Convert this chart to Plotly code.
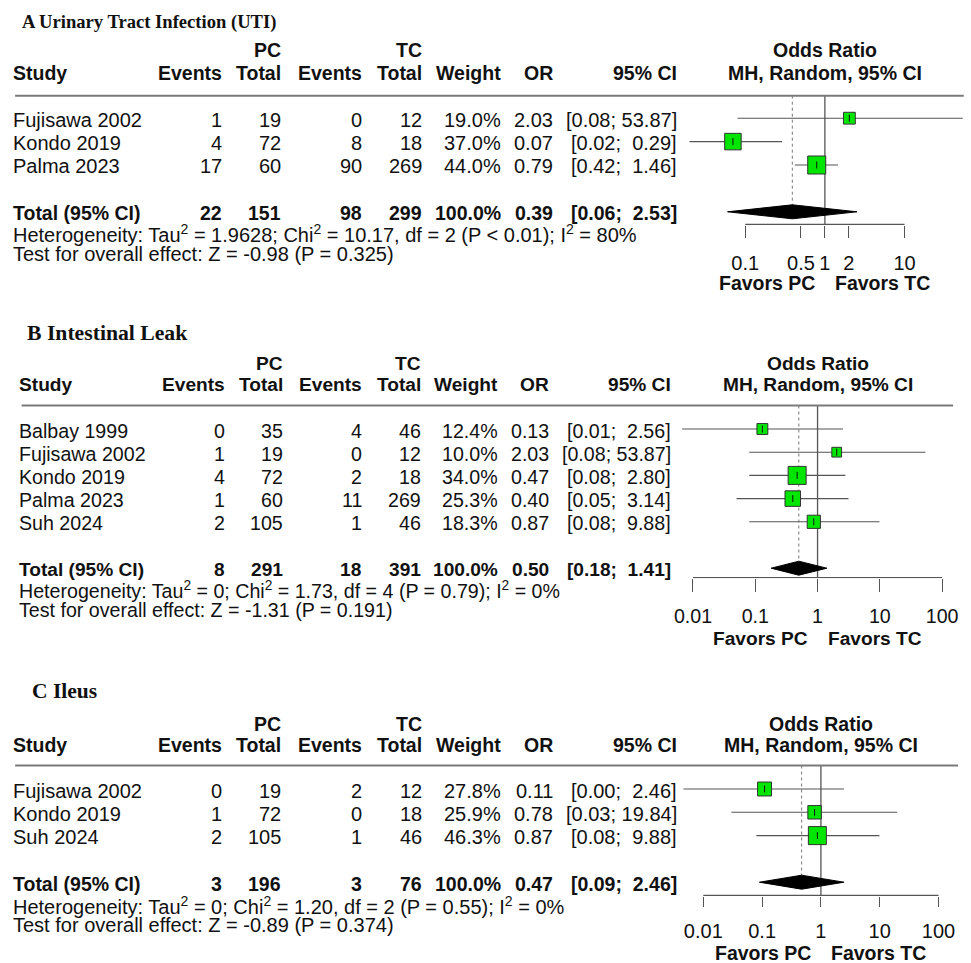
import numpy as np
import plotly.graph_objects as go

W, H = 971, 963
SANS = "Liberation Sans, Arial, Helvetica, sans-serif"
SERIF = "Liberation Serif, Times New Roman, serif"
INK = "#111111"

# ---------------- A: Urinary tract infection ----------------
a_studies = ["Fujisawa 2002", "Kondo 2019", "Palma 2023"]
a_pc_events = [1, 4, 17]
a_pc_total = [19, 72, 60]
a_tc_events = [0, 8, 90]
a_tc_total = [12, 18, 269]
a_weight = [19.0, 37.0, 44.0]
a_or = [2.03, 0.07, 0.79]
a_lo = [0.08, 0.02, 0.42]
a_hi = [53.87, 0.29, 1.46]
a_pooled = [0.39, 0.06, 2.53]
a_het = "Heterogeneity: Tau<sup>2</sup> = 1.9628; Chi<sup>2</sup> = 10.17, df = 2 (P &lt; 0.01); I<sup>2</sup> = 80%"
a_test = "Test for overall effect: Z = -0.98 (P = 0.325)"
a_ticks = [0.1, 0.5, 1, 2, 10]
a_ticklabels = ["0.1", "0.5", "1", "2", "10"]

# ---------------- B: Intestinal leak ----------------
b_studies = ["Balbay 1999", "Fujisawa 2002", "Kondo 2019", "Palma 2023", "Suh 2024"]
b_pc_events = [0, 1, 4, 1, 2]
b_pc_total = [35, 19, 72, 60, 105]
b_tc_events = [4, 0, 2, 11, 1]
b_tc_total = [46, 12, 18, 269, 46]
b_weight = [12.4, 10.0, 34.0, 25.3, 18.3]
b_or = [0.13, 2.03, 0.47, 0.40, 0.87]
b_lo = [0.0067, 0.08, 0.08, 0.05, 0.08]
b_hi = [2.56, 53.87, 2.80, 3.14, 9.88]
b_pooled = [0.50, 0.18, 1.41]
b_het = "Heterogeneity: Tau<sup>2</sup> = 0; Chi<sup>2</sup> = 1.73, df = 4 (P = 0.79); I<sup>2</sup> = 0%"
b_test = "Test for overall effect: Z = -1.31 (P = 0.191)"
b_ticks = [0.01, 0.1, 1, 10, 100]
b_ticklabels = ["0.01", "0.1", "1", "10", "100"]

# ---------------- C: Ileus ----------------
c_studies = ["Fujisawa 2002", "Kondo 2019", "Suh 2024"]
c_pc_events = [0, 1, 2]
c_pc_total = [19, 72, 105]
c_tc_events = [2, 0, 1]
c_tc_total = [12, 18, 46]
c_weight = [27.8, 25.9, 46.3]
c_or = [0.11, 0.78, 0.87]
c_lo = [0.0046, 0.03, 0.08]
c_hi = [2.46, 19.84, 9.88]
c_pooled = [0.47, 0.09, 2.46]
c_het = "Heterogeneity: Tau<sup>2</sup> = 0; Chi<sup>2</sup> = 1.20, df = 2 (P = 0.55); I<sup>2</sup> = 0%"
c_test = "Test for overall effect: Z = -0.89 (P = 0.374)"
c_ticks = [0.01, 0.1, 1, 10, 100]
c_ticklabels = ["0.01", "0.1", "1", "10", "100"]

panels = [
    dict(title="A Urinary Tract Infection (UTI)", studies=a_studies,
         pce=a_pc_events, pct=a_pc_total, tce=a_tc_events, tct=a_tc_total,
         w=a_weight, est=a_or, lo=a_lo, hi=a_hi, pooled=a_pooled,
         het=a_het, test=a_test, ticks=a_ticks, ticklabels=a_ticklabels,
         g=dict(title_x=20.7, title_y=22, title_size=18.6, shift=0.0, sc=1.0,
                h1=50, h2=73.5, line_y=95.7, line_x1=966.7, row0=118.2, step=23.4,
                het_y=233.5, test_y=254, axis_y=225, ticklen=12, standoff=8,
                fav_y=283, one=826.7, k=80.3, fx0=683, fx1=967)),
    dict(title="B Intestinal Leak", studies=b_studies,
         pce=b_pc_events, pct=b_pc_total, tce=b_tc_events, tct=b_tc_total,
         w=b_weight, est=b_or, lo=b_lo, hi=b_hi, pooled=b_pooled,
         het=b_het, test=b_test, ticks=b_ticks, ticklabels=b_ticklabels,
         g=dict(title_x=26, title_y=333, title_size=21.7, shift=6.6, sc=0.9817,
                h1=363.5, h2=384.5, line_y=405.5, line_x1=956, row0=429, step=23.2,
                het_y=590, test_y=610, axis_y=578.3, ticklen=13, standoff=7,
                fav_y=638.3, one=819.3, k=62.8, fx0=680, fx1=958)),
    dict(title="C Ileus", studies=c_studies,
         pce=c_pc_events, pct=c_pc_total, tce=c_tc_events, tct=c_tc_total,
         w=c_weight, est=c_or, lo=c_lo, hi=c_hi, pooled=c_pooled,
         het=c_het, test=c_test, ticks=c_ticks, ticklabels=c_ticklabels,
         g=dict(title_x=31.5, title_y=691, title_size=21.5, shift=0.0, sc=1.0,
                h1=724, h2=745, line_y=765.5, line_x1=961, row0=789, step=23.3,
                het_y=905, test_y=924.5, axis_y=896, ticklen=10, standoff=7,
                fav_y=953.3, one=822.7, k=59.3, fx0=680, fx1=963)),
]

# right edges of the table columns (px) and the left edge of the study column
COL_STUDY = 11.7
COL_RIGHT = dict(pce=220, pct=279.3, tce=360.7, tct=421.7, w=500.7, est=553.3, ci=678.3)
LEFT_NUDGE = -5.0   # annotation boxes sit slightly inside their anchor

fig = go.Figure()
annotations = []
shapes = []


def add_text(x_px, y_px, s, anchor="right", size=20.0, family=SANS, bold=False):
    if anchor == "left":
        x_px += LEFT_NUDGE
    annotations.append(dict(
        xref="paper", yref="paper", x=x_px / W, y=1 - y_px / H,
        text=f"<b>{s}</b>" if bold else s, showarrow=False,
        xanchor=anchor, yanchor="middle", borderpad=0,
        font=dict(family=family, size=size, color=INK)))


def ci_labels(lo, hi):
    low = [f"{v:.2f}" for v in lo]
    up = [f"{v:.2f}" for v in hi]
    wl = max(len(s) for s in low)
    wu = max(len(s) for s in up)
    pad = lambda s, n: "\u00a0" * (n - len(s)) + s
    return [f"[{pad(a, wl)};\u00a0{pad(b, wu)}]" for a, b in zip(low, up)]


for p_i, p in enumerate(panels, start=1):
    g = p["g"]
    n = len(p["studies"])
    fs = 20.0 * g["sc"]
    fb = 19.5 * g["sc"]
    tx = lambda x: COL_STUDY + g["shift"] + g["sc"] * (x - COL_STUDY)

    # ---- panel heading and column headers
    add_text(g["title_x"], g["title_y"], p["title"], anchor="left",
             size=g["title_size"], family=SERIF, bold=True)
    add_text(tx(COL_RIGHT["pct"]), g["h1"], "PC", size=fb, bold=True)
    add_text(tx(COL_RIGHT["tct"]), g["h1"], "TC", size=fb, bold=True)
    add_text(tx(COL_STUDY), g["h2"], "Study", anchor="left", size=fb, bold=True)
    for key, lab in [("pce", "Events"), ("pct", "Total"), ("tce", "Events"),
                     ("tct", "Total"), ("w", "Weight"), ("est", "OR"), ("ci", "95% CI")]:
        add_text(tx(COL_RIGHT[key]), g["h2"], lab, size=fb, bold=True)

    shapes.append(dict(type="line", xref="paper", yref="paper",
                       x0=(tx(COL_STUDY) - 1.5) / W, x1=g["line_x1"] / W,
                       y0=1 - g["line_y"] / H, y1=1 - g["line_y"] / H,
                       line=dict(color="#7a7a7a", width=2)))

    # ---- study rows
    cis = ci_labels(p["lo"] + [p["pooled"][1]], p["hi"] + [p["pooled"][2]])
    for i in range(n):
        yy = g["row0"] + g["step"] * i + 1.5
        add_text(tx(COL_STUDY), yy, p["studies"][i], anchor="left", size=fs)
        add_text(tx(COL_RIGHT["pce"]), yy, str(p["pce"][i]), size=fs)
        add_text(tx(COL_RIGHT["pct"]), yy, str(p["pct"][i]), size=fs)
        add_text(tx(COL_RIGHT["tce"]), yy, str(p["tce"][i]), size=fs)
        add_text(tx(COL_RIGHT["tct"]), yy, str(p["tct"][i]), size=fs)
        add_text(tx(COL_RIGHT["w"]), yy, f"{p['w'][i]:.1f}%", size=fs)
        add_text(tx(COL_RIGHT["est"]), yy, f"{p['est'][i]:.2f}", size=fs)
        add_text(tx(COL_RIGHT["ci"]), yy, cis[i], size=fs)

    # ---- pooled row
    yt = g["row0"] + g["step"] * (n + 1) + 1.5
    add_text(tx(COL_STUDY), yt, "Total (95% CI)", anchor="left", size=fb, bold=True)
    add_text(tx(COL_RIGHT["pce"]), yt, str(sum(p["pce"])), size=fb, bold=True)
    add_text(tx(COL_RIGHT["pct"]), yt, str(sum(p["pct"])), size=fb, bold=True)
    add_text(tx(COL_RIGHT["tce"]), yt, str(sum(p["tce"])), size=fb, bold=True)
    add_text(tx(COL_RIGHT["tct"]), yt, str(sum(p["tct"])), size=fb, bold=True)
    add_text(tx(COL_RIGHT["w"]), yt, f"{sum(p['w']):.1f}%", size=fb, bold=True)
    add_text(tx(COL_RIGHT["est"]), yt, f"{p['pooled'][0]:.2f}", size=fb, bold=True)
    add_text(tx(COL_RIGHT["ci"]), yt, cis[-1], size=fb, bold=True)
    add_text(tx(COL_STUDY), g["het_y"], p["het"], anchor="left", size=fs)
    add_text(tx(COL_STUDY), g["test_y"], p["test"], anchor="left", size=fs)

    # ---- forest axes
    xa = "x" if p_i == 1 else f"x{p_i}"
    ya = "y" if p_i == 1 else f"y{p_i}"
    xr = [(g["fx0"] - g["one"]) / g["k"], (g["fx1"] - g["one"]) / g["k"]]
    y_top = (g["line_y"] - g["row0"]) / g["step"]
    y_bot = (g["axis_y"] - g["row0"]) / g["step"]
    lay_x = "xaxis" if p_i == 1 else f"xaxis{p_i}"
    lay_y = "yaxis" if p_i == 1 else f"yaxis{p_i}"
    fig.update_layout({
        lay_x: dict(type="log", range=xr, domain=[g["fx0"] / W, g["fx1"] / W],
                    anchor=ya, showgrid=False, zeroline=False, showline=False,
                    ticks="outside", ticklen=g["ticklen"], tickwidth=1.3,
                    tickcolor="#555555", tickvals=p["ticks"], ticktext=p["ticklabels"],
                    tickangle=0, ticklabelstandoff=g["standoff"],
                    tickfont=dict(family=SANS, size=fs, color=INK), fixedrange=True),
        lay_y: dict(range=[y_bot, y_top], domain=[1 - g["axis_y"] / H, 1 - g["line_y"] / H],
                    anchor=xa, visible=False, fixedrange=True),
    })

    idx = list(range(n))
    t_idx = n + 1
    dh = 7.0 / g["step"]
    eps = 0.6 / g["step"]

    # axis line across the tick span
    fig.add_trace(go.Scatter(x=[min(p["ticks"]), max(p["ticks"])], y=[y_bot - eps] * 2,
                             mode="lines", line=dict(color="#555555", width=1.3),
                             xaxis=xa, yaxis=ya, hoverinfo="skip", showlegend=False))
    # line of no effect
    fig.add_trace(go.Scatter(x=[1, 1], y=[y_top, y_bot], mode="lines",
                             line=dict(color="#555555", width=1.3),
                             xaxis=xa, yaxis=ya, hoverinfo="skip", showlegend=False))
    # pooled estimate reference
    fig.add_trace(go.Scatter(x=[p["pooled"][0]] * 2, y=[y_top, t_idx - dh], mode="lines",
                             line=dict(color="#777777", width=1, dash="dot"),
                             xaxis=xa, yaxis=ya, hoverinfo="skip", showlegend=False))
    # confidence intervals
    cx, cy = [], []
    for i in idx:
        cx += [p["lo"][i], p["hi"][i], None]
        cy += [i, i, None]
    fig.add_trace(go.Scatter(x=cx, y=cy, mode="lines", line=dict(color="#555555", width=1.1),
                             xaxis=xa, yaxis=ya, hoverinfo="skip", showlegend=False))
    # weighted boxes
    wmax = max(p["w"])
    sizes = [18.0 * np.sqrt(w / wmax) for w in p["w"]]
    fig.add_trace(go.Scatter(x=p["est"], y=idx, mode="markers",
                             marker=dict(symbol="square", size=sizes, color="#00e600", opacity=1,
                                         line=dict(color="#333333", width=1)),
                             xaxis=xa, yaxis=ya, hoverinfo="skip", showlegend=False))
    fig.add_trace(go.Scatter(x=p["est"], y=idx, mode="markers",
                             marker=dict(symbol="line-ns", size=5, opacity=1,
                                         line=dict(color="#111111", width=1)),
                             xaxis=xa, yaxis=ya, hoverinfo="skip", showlegend=False))
    # pooled diamond
    est, lo, hi = p["pooled"]
    fig.add_trace(go.Scatter(x=[lo, est, hi, est, lo], y=[t_idx, t_idx - dh, t_idx, t_idx + dh, t_idx],
                             mode="lines", fill="toself", fillcolor="#000000",
                             line=dict(color="#000000", width=1),
                             xaxis=xa, yaxis=ya, hoverinfo="skip", showlegend=False))

    # forest headings and direction labels
    for yy, s in [(g["h1"], "Odds Ratio"), (g["h2"], "MH, Random, 95% CI")]:
        annotations.append(dict(xref=xa, yref="paper", x=0, y=1 - yy / H, text=f"<b>{s}</b>",
                                showarrow=False, xanchor="center", yanchor="middle", borderpad=0,
                                font=dict(family=SANS, size=fb, color=INK)))
    for s, anc, sh in [("Favors PC", "right", -9), ("Favors TC", "left", 9)]:
        annotations.append(dict(xref=xa, yref="paper", x=0, y=1 - g["fav_y"] / H, text=f"<b>{s}</b>",
                                showarrow=False, xanchor=anc, yanchor="middle", xshift=sh, borderpad=0,
                                font=dict(family=SANS, size=fb, color=INK)))

fig.update_layout(width=W, height=H, margin=dict(l=0, r=0, t=0, b=0),
                  paper_bgcolor="white", plot_bgcolor="rgba(0,0,0,0)",
                  showlegend=False, annotations=annotations, shapes=shapes)

fig.write_html("out.html", config={"displayModeBar": False})
